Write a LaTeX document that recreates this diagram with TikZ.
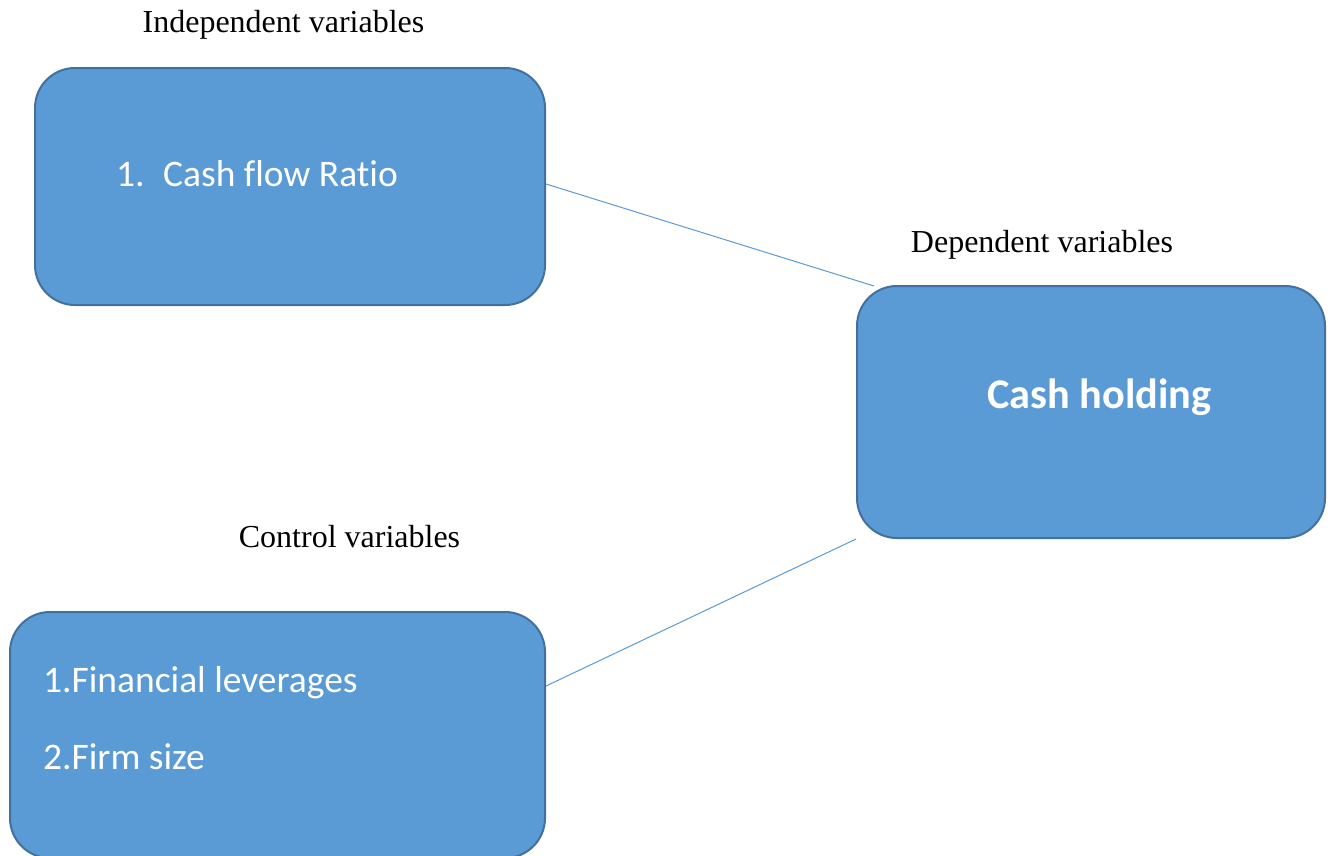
\documentclass[tikz,border=0pt]{standalone}
\usepackage{fontspec}
\setmainfont{Liberation Serif}
\newfontfamily\boxfont{Carlito}[Ligatures=NoCommon]
\definecolor{boxfill}{HTML}{5B9BD5}
\definecolor{boxline}{HTML}{41719C}
\definecolor{linkcol}{HTML}{5B9BD5}
\tikzset{
  varbox/.style={draw=boxline, fill=boxfill, line width=2pt, rounded corners=40pt, inner sep=0pt},
  label/.style={anchor=base, inner sep=0pt, font=\fontsize{32}{38}\selectfont},
  boxtext/.style={anchor=base west, inner sep=0pt, text=white, font=\boxfont\fontsize{37.5}{44}\selectfont},
  link/.style={draw=linkcol, line width=1pt}
}
\begin{document}
\begin{tikzpicture}[x=1pt,y=-1pt]
\clip (0,0) rectangle (1332,855);
\fill[white] (0,0) rectangle (1332,855);
% boxes
\node[varbox, minimum width=510pt, minimum height=237pt] (indep) at (290,186.5) {};
\node[varbox, minimum width=468pt, minimum height=252pt] (dep) at (1091,412) {};
\node[varbox, minimum width=535pt, minimum height=246pt] (ctrl) at (277.5,735) {};
% headings
\node[label] (indeplab) at (283.5,32) {Independent variables};
\node[label] (deplab) at (1042,252) {Dependent variables};
\node[label] (ctrllab) at (349.5,547) {Control variables};
% box texts
\node[boxtext] (t1) at (116,186) {\makebox[47pt][l]{1.}Cash flow Ratio};
\node[boxtext, font=\boxfont\bfseries\fontsize{42.3}{50}\selectfont] (t2) at (987,408) {Cash holding};
\node[boxtext] (t3) at (43,692) {1.Financial leverages};
\node[boxtext] (t4) at (43,769) {2.Firm size};
% connectors
\coordinate (depin) at ([xshift=18pt,yshift=-1pt]dep.north west);
\draw[link] ([yshift=2.5pt]indep.east) -- (depin);
\draw[link] ([yshift=49pt]ctrl.east) -- (dep.south west);
\end{tikzpicture}
\end{document}
